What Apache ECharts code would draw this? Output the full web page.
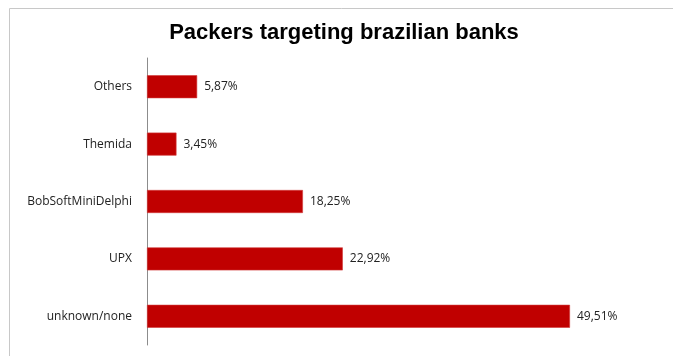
<!DOCTYPE html>
<html><head><meta charset="utf-8">
<script src="https://cdn.jsdelivr.net/npm/echarts@6/dist/echarts.min.js"></script>
<style>html,body{margin:0;padding:0;background:#fff}#c{width:673px;height:356px}</style>
</head><body><div id="c"></div>
<script>
const categories = ["unknown/none", "UPX", "BobSoftMiniDelphi", "Themida", "Others"];
const values = [49.51, 22.92, 18.25, 3.45, 5.87];
const titleText = "Packers targeting brazilian banks";

const chart = echarts.init(document.getElementById('c'), null, {renderer: 'canvas'});
chart.setOption({
  animation: false,
  backgroundColor: '#fff',
  title: {
    text: titleText, left: 339, top: 17, textAlign: 'center',
    textStyle: {fontFamily: 'Liberation Sans, Arial', fontWeight: 'bold', fontSize: 22, color: '#000'}
  },
  graphic: [{
    type: 'polyline', silent: true,
    shape: {points: [[9.5, 356], [9.5, 8.5], [673, 8.5]]},
    style: {stroke: '#c8c8c8', lineWidth: 1, fill: null}
  }],
  grid: {left: 147, top: 58, width: 512.6, height: 287, containLabel: false},
  xAxis: {type: 'value', min: 0, max: 60, show: false},
  yAxis: {
    type: 'category', data: categories,
    axisLine: {show: true, lineStyle: {color: '#8c8c8c', width: 1}},
    axisTick: {show: false},
    axisLabel: {margin: 15, color: '#222', fontFamily: 'Open Sans', fontSize: 12}
  },
  series: [{
    type: 'bar', data: values, barWidth: 23,
    itemStyle: {color: '#C00000', borderColor: '#d23a3a', borderWidth: 0.6},
    label: {
      show: true, position: 'right', distance: 7, color: '#222',
      fontFamily: 'Open Sans', fontSize: 12,
      formatter: p => p.value.toFixed(2).replace('.', ',') + '%'
    }
  }]
});
</script></body></html>
